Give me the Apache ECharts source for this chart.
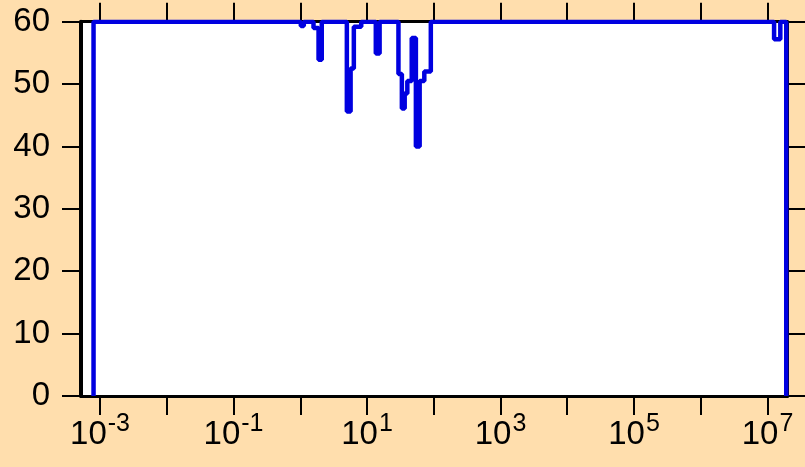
<!DOCTYPE html>
<html>
<head>
<meta charset="utf-8">
<script src="https://cdn.jsdelivr.net/npm/echarts@6/dist/echarts.min.js"></script>
<style>
html,body{margin:0;padding:0;background:#ffdead;}
#chart{width:805px;height:467px;}
</style>
</head>
<body>
<div id="chart"></div>
<script>
// step line: each y holds from its x to the next x
var stepX = [8.0e-4, 8.0e-4, 1.02, 1.13, 1.58, 1.88, 2.10, 4.99, 5.68, 6.35, 8.2, 13.55, 15.45,
    29.6, 33.3, 36.7, 40.2, 46.8, 54.0, 61.5, 72.2, 90.4, 1.256e7, 1.557e7, 1.91e7];
var stepY = [0, 60, 59.3, 60, 59.0, 53.9, 60, 45.6, 52.5, 59.2, 60, 54.9, 60,
    51.6, 46.1, 48.5, 50.5, 57.4, 40.0, 50.5, 52.0, 60, 57.2, 60, 0];
var xTickValues = [1e-3, 1e-2, 1e-1, 1, 1e1, 1e2, 1e3, 1e4, 1e5, 1e6, 1e7];
var xLabelValues = [1e-3, 1e-1, 1e1, 1e3, 1e5, 1e7];
var xMin = 5.19e-4, xMax = 1.995e7;
var yMin = 0, yMax = 60, yStep = 10;

var font = 'Liberation Sans, Arial, sans-serif';
var pts = [];
for (var i = 0; i < stepX.length; i++) {
    pts.push([stepX[i], stepY[i]]);
}

var xAxisBase = function (pos) {
    return {
        type: 'log',
        position: pos,
        min: xMin,
        max: xMax,
        axisLine: {show: true, onZero: false, lineStyle: {color: '#000', width: 3}},
        axisTick: {show: true, inside: false, length: 19, customValues: xTickValues,
            lineStyle: {color: '#000', width: 2}},
        splitLine: {show: false},
        minorTick: {show: false},
        axisLabel: {show: false}
    };
};
var bottomAxis = xAxisBase('bottom');
bottomAxis.axisLabel = {
    show: true,
    customValues: xLabelValues,
    margin: 22,
    formatter: function (v) {
        var e = Math.round(Math.log(v) / Math.LN10);
        return '{b|10}{s|' + e + '}';
    },
    rich: {
        b: {fontSize: 33, fontFamily: font, color: '#000', lineHeight: 33},
        s: {fontSize: 25, fontFamily: font, color: '#000', lineHeight: 25, padding: [0, 0, 20, 1]}
    }
};
var topAxis = xAxisBase('top');

var yAxisBase = function (pos, w) {
    return {
        type: 'value',
        position: pos,
        min: yMin,
        max: yMax,
        interval: yStep,
        axisLine: {show: true, onZero: false, lineStyle: {color: '#000', width: w}},
        axisTick: {show: true, inside: false, length: 19, lineStyle: {color: '#000', width: 2}},
        splitLine: {show: false},
        axisLabel: {show: false}
    };
};
var leftAxis = yAxisBase('left', 4);
leftAxis.axisLabel = {show: true, margin: 31, fontSize: 33, fontFamily: font, color: '#000'};
var rightAxis = yAxisBase('right', 3);

var chart = echarts.init(document.getElementById('chart'));
chart.setOption({
    backgroundColor: '#ffdead',
    animation: false,
    grid: {
        left: 81, right: 17.5, top: 21.7, bottom: 71,
        show: true, backgroundColor: '#fff', borderWidth: 0,
        containLabel: false, outerBoundsMode: 'none'
    },
    xAxis: [bottomAxis, topAxis],
    yAxis: [leftAxis, rightAxis],
    series: [{
        type: 'line',
        step: 'end',
        xAxisIndex: 0,
        yAxisIndex: 0,
        symbol: 'none',
        showSymbol: false,
        lineStyle: {color: '#0000e0', width: 4.5},
        data: pts
    }]
});
</script>
</body>
</html>
